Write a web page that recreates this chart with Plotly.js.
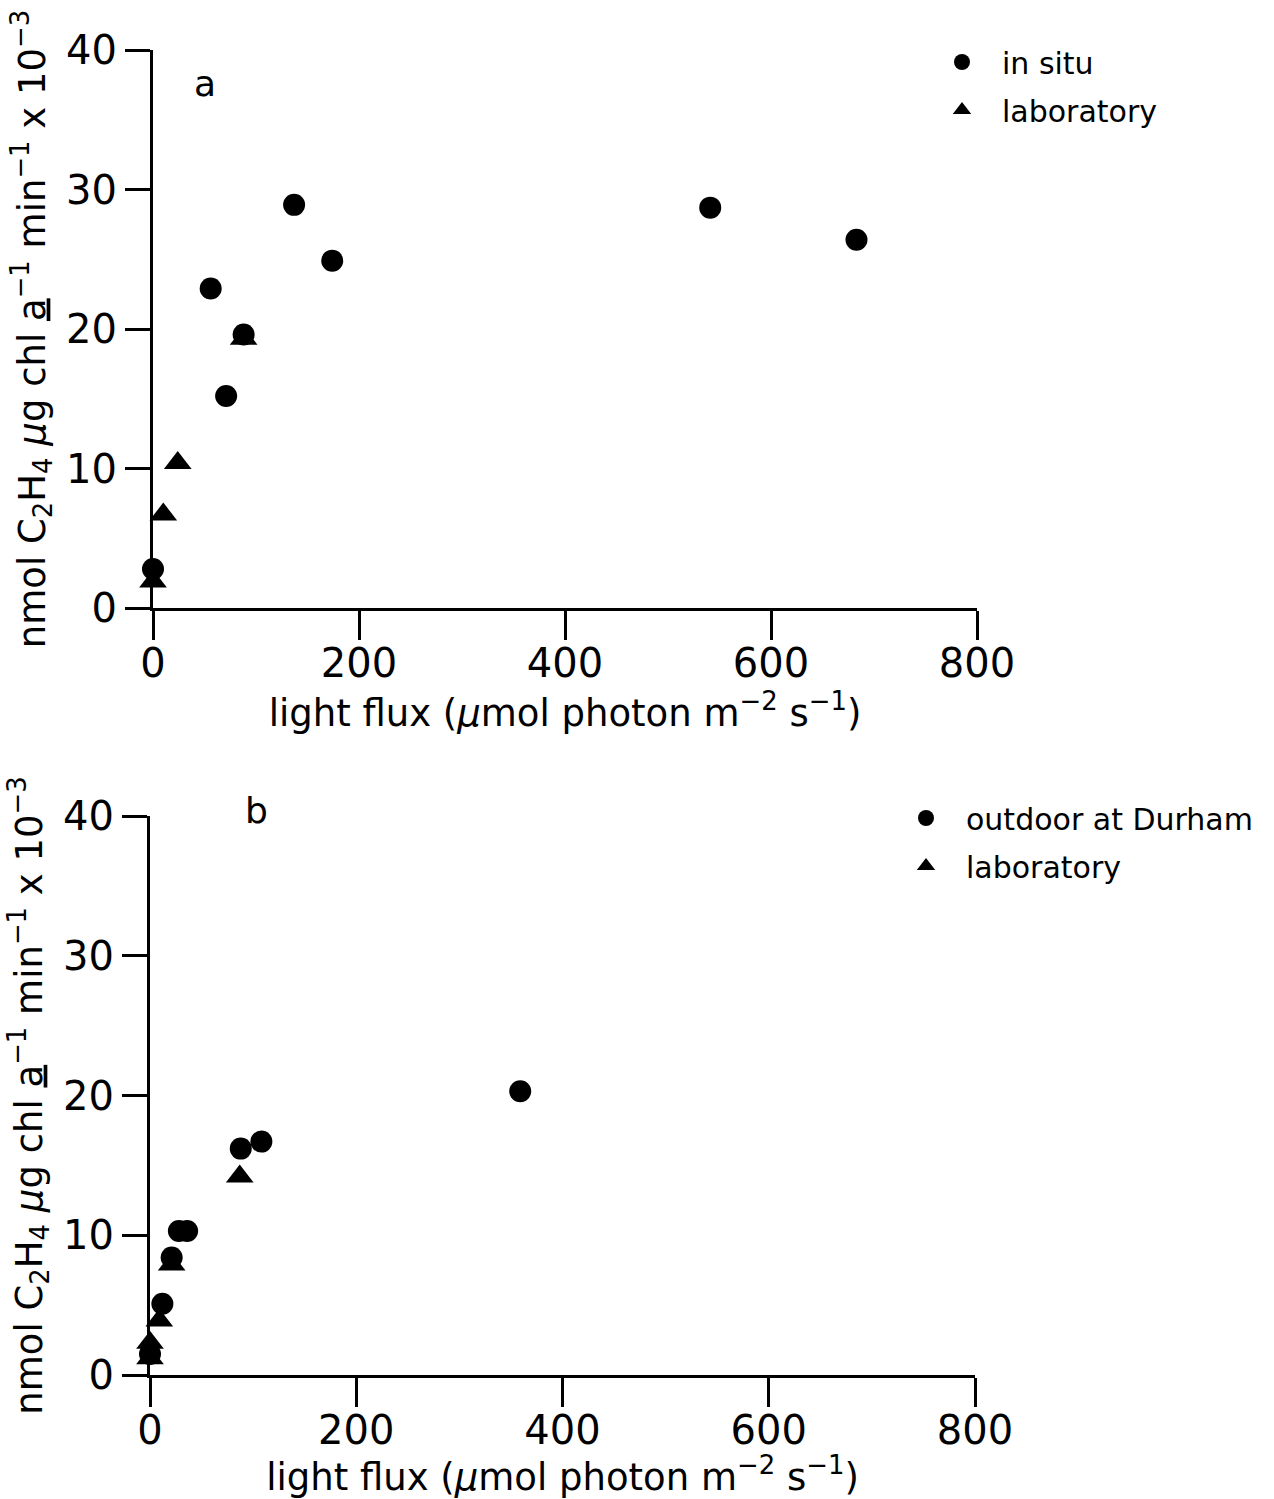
<!DOCTYPE html>
<html>
<head>
<meta charset="utf-8">
<script src="https://cdn.plot.ly/plotly-3.0.1.min.js"></script>
<style>html,body{margin:0;padding:0;background:#fff;}#chart{width:1274px;height:1499px;}</style>
</head>
<body>
<div id="chart"></div>
<script>
// Panel a
const aInSituX = [0, 56, 71, 88, 137, 174, 541, 683];
const aInSituY = [2.8, 22.9, 15.2, 19.6, 28.9, 24.9, 28.7, 26.4];
const aLabX = [0, 10, 24, 88];
const aLabY = [1.9, 6.7, 10.4, 19.3];
// Panel b
const bOutdoorX = [0, 12, 21, 28, 36, 88, 108, 359];
const bOutdoorY = [1.5, 5.1, 8.4, 10.3, 10.3, 16.2, 16.7, 20.3];
const bLabX = [0, 0, 9, 21, 87];
const bLabY = [2.3, 1.2, 3.9, 7.9, 14.2];

const xTickVals = [0, 200, 400, 600, 800];
const yTickVals = [0, 10, 20, 30, 40];

const FONT = 'DejaVu Sans, sans-serif';
const xTitle = 'light flux (<i>μ</i>mol photon m<sup>−2</sup> s<sup>−1</sup>)';
const yTitle = 'nmol C<sub>2</sub>H<sub>4</sub> <i>μ</i>g chl <u>a</u><sup>−1</sup> min<sup>−1</sup> x 10<sup>−3</sup>';

const circ = {symbol: 'circle', size: 22, color: '#000'};
const tri = {symbol: 'triangle-up', size: 24, color: '#000'};

const traces = [
  {x: aInSituX, y: aInSituY, type: 'scatter', mode: 'markers', name: 'in situ', marker: circ, xaxis: 'x', yaxis: 'y', cliponaxis: false, legend: 'legend', legendgroup: 'a1'},
  {x: aLabX, y: aLabY, type: 'scatter', mode: 'markers', name: 'laboratory', marker: tri, xaxis: 'x', yaxis: 'y', cliponaxis: false, legend: 'legend', legendgroup: 'a2'},
  {x: bOutdoorX, y: bOutdoorY, type: 'scatter', mode: 'markers', name: 'outdoor at Durham', marker: circ, xaxis: 'x2', yaxis: 'y2', cliponaxis: false, legend: 'legend2', legendgroup: 'b1'},
  {x: bLabX, y: bLabY, type: 'scatter', mode: 'markers', name: 'laboratory', marker: tri, xaxis: 'x2', yaxis: 'y2', cliponaxis: false, legend: 'legend2', legendgroup: 'b2'}
];

function xAx(domain, anchor) {
  return {
    domain: domain, anchor: anchor, range: [0, 800], tickvals: xTickVals,
    showline: true, linewidth: 3, linecolor: '#000', ticks: 'outside', ticklen: 29, tickwidth: 3, tickcolor: '#000',
    ticklabelstandoff: -11,
    showgrid: false, zeroline: false, tickfont: {family: FONT, size: 40, color: '#000'},
    title: {text: xTitle, font: {family: FONT, size: 37, color: '#000'}, standoff: 2}
  };
}
function yAx(domain, anchor) {
  return {
    domain: domain, anchor: anchor, range: [0, 40], tickvals: yTickVals,
    showline: true, linewidth: 3, linecolor: '#000', ticks: 'outside', ticklen: 25, tickwidth: 3, tickcolor: '#000',
    showgrid: false, zeroline: false, tickfont: {family: FONT, size: 40, color: '#000'},
    title: {text: yTitle, font: {family: FONT, size: 37, color: '#000'}, standoff: 10}
  };
}

const W = 1274, H = 1499;
const legendStyle = {xanchor: 'left', yanchor: 'top', bgcolor: 'rgba(0,0,0,0)', font: {family: FONT, size: 30, color: '#000'}, tracegroupgap: 6, itemwidth: 70};
const layout = {
  width: W, height: H, margin: {l: 0, r: 0, t: 0, b: 0},
  paper_bgcolor: '#fff', plot_bgcolor: '#fff', showlegend: true,
  font: {family: FONT, color: '#000'},
  xaxis: xAx([153 / W, 977 / W], 'y'),
  yaxis: yAx([1 - 608 / H, 1 - 50 / H], 'x'),
  xaxis2: xAx([150 / W, 975 / W], 'y2'),
  yaxis2: yAx([1 - 1375 / H, 1 - 816 / H], 'x2'),
  legend: Object.assign({x: 922 / W, y: 1 - 36 / H}, legendStyle),
  legend2: Object.assign({x: 886 / W, y: 1 - 792 / H}, legendStyle),
  annotations: [
    {text: 'a', xref: 'paper', yref: 'paper', x: 205 / W, y: 1 - 84 / H, xanchor: 'center', yanchor: 'middle', showarrow: false, font: {family: FONT, size: 36, color: '#000'}},
    {text: 'b', xref: 'paper', yref: 'paper', x: 256 / W, y: 1 - 811 / H, xanchor: 'center', yanchor: 'middle', showarrow: false, font: {family: FONT, size: 36, color: '#000'}}
  ]
};

Plotly.newPlot('chart', traces, layout, {displayModeBar: false, staticPlot: true});
</script>
</body>
</html>
